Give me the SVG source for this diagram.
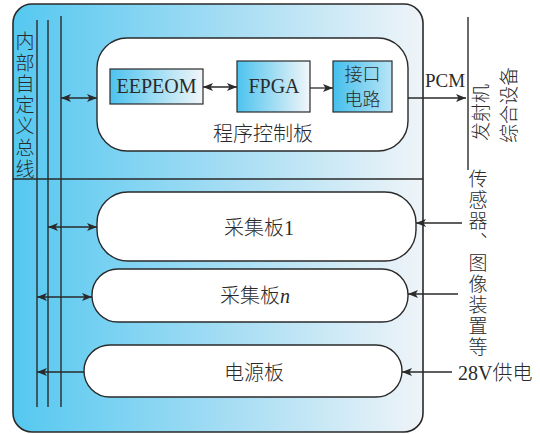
<svg xmlns="http://www.w3.org/2000/svg" width="540" height="434" viewBox="0 0 540 434">
<defs>
<linearGradient id="gOuter" x1="0" y1="0" x2="1" y2="0">
<stop offset="0" stop-color="#55c8f0"/>
<stop offset="0.55" stop-color="#a9def4"/>
<stop offset="1" stop-color="#eff4f8"/>
</linearGradient>
<linearGradient id="gBox" x1="0" y1="0" x2="1" y2="0">
<stop offset="0" stop-color="#4cc3ee"/>
<stop offset="1" stop-color="#f2f6f9"/>
</linearGradient>
<linearGradient id="gIf" x1="0" y1="0" x2="1" y2="0">
<stop offset="0" stop-color="#45bfec"/>
<stop offset="1" stop-color="#b9e5f6"/>
</linearGradient>
<marker id="ah" viewBox="0 0 10 8" refX="10" refY="4" markerWidth="10" markerHeight="8" markerUnits="userSpaceOnUse" orient="auto-start-reverse">
<path d="M0,0 L10,4 L0,8 L2.5,4 z" fill="#2a2a2a"/>
</marker>
<style>
.ln{stroke:#2a2a2a;stroke-width:1.4;fill:none}
.cn{stroke:#2a2a2a;stroke-width:1.3;fill:none}
.board{fill:#ffffff;stroke:#2a2a2a;stroke-width:1.4}
.bx{stroke:#2a2a2a;stroke-width:1.2}
.t{font-family:"Liberation Serif","Noto Sans CJK SC",serif;fill:#2a2a2a}
.c{font-family:"Noto Sans CJK SC","Liberation Serif",sans-serif;fill:#2a2a2a;font-weight:300}
.v{writing-mode:vertical-rl}
</style>
</defs>

<g id="outer">
<rect x="13" y="4" width="410" height="428" rx="19" ry="19" fill="url(#gOuter)" stroke="#2a2a2a" stroke-width="1.6"/>
<line class="ln" x1="13" y1="179" x2="423" y2="179"/>
</g>

<g id="bus">
<line class="ln" x1="37" y1="20" x2="37" y2="407"/>
<line class="ln" x1="48" y1="20" x2="48" y2="407"/>
<line class="ln" x1="61" y1="16" x2="61" y2="407"/>
<text class="c v" x="25" y="31.5" font-size="19" letter-spacing="2.3">内部自定义总线</text>
</g>

<g id="control-board">
<rect class="board" x="97" y="38" width="311" height="113" rx="30" ry="30"/>
<text class="c" x="263" y="141" font-size="20" text-anchor="middle">程序控制板</text>
</g>

<g id="eepeom">
<rect class="bx" x="110" y="69" width="93" height="35" fill="url(#gBox)"/>
<text class="t" x="156.5" y="93" font-size="20" text-anchor="middle">EEPEOM</text>
</g>

<g id="fpga">
<rect class="bx" x="237" y="61" width="73" height="51" fill="url(#gBox)"/>
<text class="t" x="274" y="93" font-size="20" text-anchor="middle">FPGA</text>
</g>

<g id="interface">
<rect class="bx" x="333" y="61" width="59" height="51" fill="url(#gIf)"/>
<text class="c" font-size="18" text-anchor="middle"><tspan x="362.5" y="80.5">接口</tspan><tspan x="362.5" dy="25.5">电路</tspan></text>
</g>

<g id="acq1">
<rect class="board" x="97" y="192" width="319" height="69" rx="31" ry="31"/>
<text class="c" x="259" y="235" font-size="20" text-anchor="middle">采集板<tspan class="t">1</tspan></text>
</g>

<g id="acqn">
<rect class="board" x="92" y="269" width="316" height="53" rx="26" ry="26"/>
<text class="c" x="255" y="302.5" font-size="20" text-anchor="middle">采集板<tspan class="t" font-style="italic">n</tspan></text>
</g>

<g id="power">
<rect class="board" x="84" y="345" width="318" height="52" rx="26" ry="26"/>
<text class="c" x="254" y="379.5" font-size="20" text-anchor="middle">电源板</text>
</g>

<g id="transmitter">
<line class="ln" x1="468" y1="17" x2="468" y2="170"/>
<text class="c" font-size="19" transform="translate(487.5,141) rotate(-90)">发射机</text>
<text class="c" font-size="19" transform="translate(515.5,143) rotate(-90)">综合设备</text>
</g>

<g id="sensors">
<text class="c v" x="478" y="169.5" font-size="19" letter-spacing="2">传感器、图像装置等</text>
</g>

<g id="supply">
<text class="t" x="458" y="380" font-size="20">28V<tspan class="c">供电</tspan></text>
</g>

<g id="connectors">
<line class="cn" x1="61" y1="98" x2="97" y2="98" marker-start="url(#ah)" marker-end="url(#ah)"/>
<line class="cn" x1="203" y1="87" x2="237" y2="87" marker-start="url(#ah)" marker-end="url(#ah)"/>
<line class="cn" x1="310" y1="88" x2="333" y2="88" marker-end="url(#ah)"/>
<line class="cn" x1="408" y1="98" x2="466" y2="98" marker-end="url(#ah)"/>
<text class="t" x="445" y="87" font-size="19" text-anchor="middle">PCM</text>
<line class="cn" x1="48" y1="227" x2="97" y2="227" marker-start="url(#ah)" marker-end="url(#ah)"/>
<line class="cn" x1="37" y1="297" x2="92" y2="297" marker-start="url(#ah)" marker-end="url(#ah)"/>
<line class="cn" x1="84" y1="372" x2="37" y2="372" marker-end="url(#ah)"/>
<line class="cn" x1="462" y1="223" x2="416" y2="223" marker-end="url(#ah)"/>
<line class="cn" x1="458" y1="294" x2="408" y2="294" marker-end="url(#ah)"/>
<line class="cn" x1="452" y1="372" x2="402" y2="372" marker-end="url(#ah)"/>
</g>
</svg>
